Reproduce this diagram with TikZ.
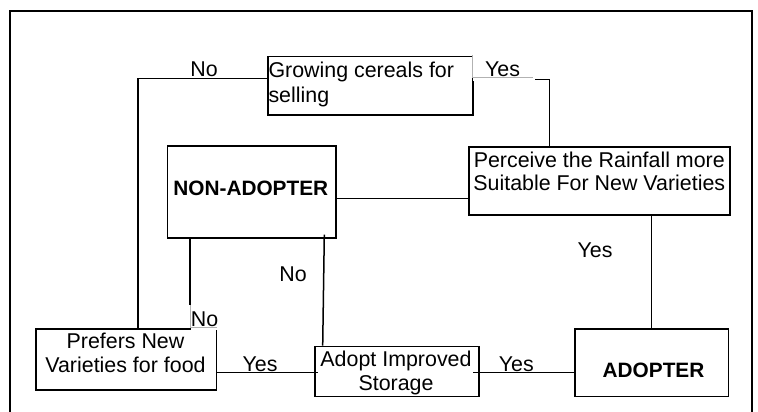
\documentclass[tikz,border=0pt]{standalone}
\usepackage{fontspec}
\setmainfont{Liberation Sans}
\usetikzlibrary{calc}
\begin{document}
\begin{tikzpicture}[x=1pt,y=-1pt,
  box/.style={draw,line width=1.6pt,inner sep=0pt,anchor=north west},
  txt/.style={inner sep=0pt,anchor=base,font=\fontsize{21.4}{24}\selectfont},
  btxt/.style={txt,font=\fontsize{20.8}{24}\selectfont\bfseries},
  link/.style={line width=1.5pt},
  tagedge/.style={draw=black!30,line width=1pt}]
\useasboundingbox (0,0) rectangle (758,412);

% outer frame, open at the bottom
\draw[line width=2.2pt] (10,412) -- (10,11) -- (752,11) -- (752,412);

% boxes
\node[box,minimum width=205,minimum height=58.3] (grow) at (267.3,55.7) {};
\node[box,minimum width=261,minimum height=68] (perc) at (468.3,146) {};
\node[box,minimum width=168.3,minimum height=92] (non) at (166.7,145.3) {};
\node[box,minimum width=180.7,minimum height=60.7] (pref) at (35,328.3) {};
\node[box,minimum width=164,minimum height=50] (adopt) at (314.3,345.7) {};
\node[box,minimum width=153.4,minimum height=67.4] (adopter) at (574.3,328.3) {};

% box texts
\node[txt,anchor=base west] (grow1) at (268.3,77.3) {Growing cereals for};
\node[txt,anchor=base west] (grow2) at (268.3,102.7) {selling};
\node[txt] (perc1) at (599.3,167.3) {Perceive the Rainfall more};
\node[txt] (perc2) at (599.3,190.7) {Suitable For New Varieties};
\node[btxt] (non1) at (250.8,195) {NON-ADOPTER};
\node[txt] (pref1) at (125.5,348.3) {Prefers New};
\node[txt] (pref2) at (125.5,372.7) {Varieties for food};
\node[txt] (adopt1) at (396,366.7) {Adopt Improved};
\node[txt] (adopt2) at (396,390) {Storage};
\node[btxt] (adopter1) at (653.5,377.7) {ADOPTER};

% connectors
\coordinate (growno) at ($(grow.north west)+(0,22.6)$);
\draw[link] (growno) -| ($(pref.north west)+(103,0)$);
\coordinate (growyes) at ($(grow.north east)+(0,23.6)$);
\draw[link] (growyes) -| ($(perc.north west)+(81,0)$);
\draw[link] (non.east |- 0,198.5) -- (perc.west |- 0,198.5);
\draw[link] ($(perc.south west)+(183.4,0)$) -- ($(adopter.north west)+(77.4,0)$);
\coordinate (nonfoot) at (190,305);
\draw[link] (non.south -| nonfoot) -- (nonfoot);
\draw[link] ($(non.south east)+(-12.3,-4.3)$) -- (adopt.north -| 322.7,0);
\draw[link] (pref.east |- 0,372.7) -- ($(adopt.west |- 0,372.7)+(4,0)$);
\draw[link] ($(adopt.east |- 0,372.7)+(-6.6,0)$) -- (adopter.west |- 0,372.7);

% label patches with light edges
\fill[white] (473,54.3) rectangle (534.5,80.9);
\draw[tagedge] (472.3,55) -- (472.3,77.3) -- (533,77.3);
\fill[white] (190.6,305) rectangle (217.5,330);
\draw[tagedge] (nonfoot) -- (190,327.7) -- (216.7,327.7);

% connector labels
\node[txt] (no1) at (204,76.7) {No};
\node[txt] (yes1) at (502.5,76.7) {Yes};
\node[txt] (no2) at (204.5,326) {No};
\node[txt] (no3) at (293,281) {No};
\node[txt] (yes2) at (260,371.7) {Yes};
\node[txt] (yes3) at (516.3,371) {Yes};
\node[txt] (yes4) at (595,257.3) {Yes};
\end{tikzpicture}
\end{document}
